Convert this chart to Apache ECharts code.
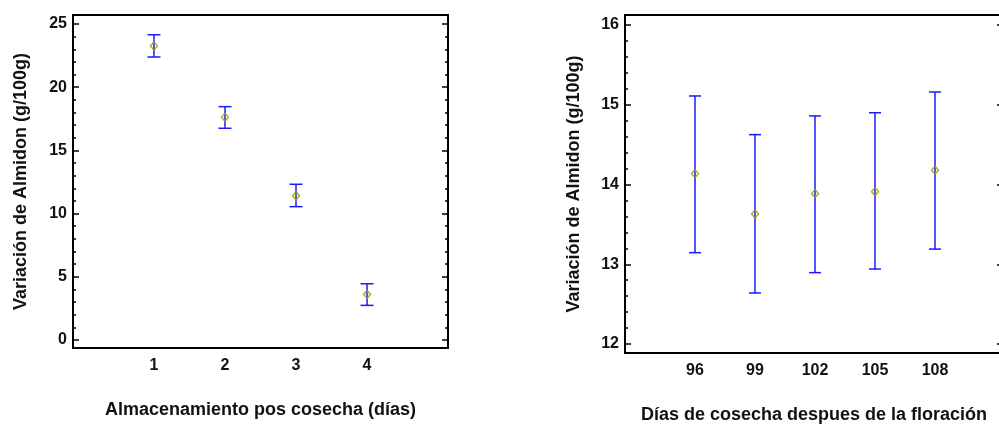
<!DOCTYPE html>
<html><head><meta charset="utf-8">
<script src="https://cdn.jsdelivr.net/npm/echarts@6/dist/echarts.min.js"></script>
<style>html,body{margin:0;padding:0;background:#fff}#c{width:999px;height:424px}</style>
</head><body><div id="c"></div>
<script>
// ---- Data ----
var leftCats = [1, 2, 3, 4];
var leftMeans = [23.26, 17.62, 11.42, 3.61];
var leftLow = [22.39, 16.75, 10.55, 2.74];
var leftHigh = [24.15, 18.46, 12.32, 4.45];
var leftYMin = 0, leftYMax = 25, leftYStep = 5;

var rightCats = [96, 99, 102, 105, 108];
var rightMeans = [14.135, 13.63, 13.885, 13.91, 14.18];
var rightLow = [13.145, 12.64, 12.895, 12.94, 13.19];
var rightHigh = [15.11, 14.625, 14.86, 14.90, 15.16];
var rightYMin = 12, rightYMax = 16, rightYStep = 1;

var leftYTitle = 'Variación de Almidon (g/100g)';
var leftXTitle = 'Almacenamiento pos cosecha (días)';
var rightYTitle = 'Variación de Almidon (g/100g)';
var rightXTitle = 'Días de cosecha despues de la floración';

var FONT = 'Liberation Sans, Arial, sans-serif';
var TXT = '#111';
var BLUE = '#1a1aff';
var OLIVE = '#9a9a00';
var TITLE_SIZE = 18, LABEL_SIZE = 16;

function frameX(grid, min, max, cats, name, gap) {
  return {
    type: 'value', gridIndex: grid, min: min, max: max, position: 'bottom',
    splitLine: { show: false }, axisLine: { show: false, onZero: false }, axisTick: { show: false },
    axisLabel: { show: true, customValues: cats, margin: 10, fontFamily: FONT, fontWeight: 'bold', fontSize: LABEL_SIZE, color: TXT },
    name: name, nameLocation: 'middle', nameGap: gap,
    nameTextStyle: { fontFamily: FONT, fontWeight: 'bold', fontSize: TITLE_SIZE, color: TXT }
  };
}
function hiddenX(grid, min, max) {
  return { type: 'value', gridIndex: grid, min: min, max: max, show: false, axisLine: { onZero: false }, splitLine: { show: false } };
}
function frameY(grid, name, gap) {
  return {
    type: 'value', gridIndex: grid, min: 0, max: 1, position: 'left',
    splitLine: { show: false }, axisLine: { show: false, onZero: false }, axisTick: { show: false }, axisLabel: { show: false },
    name: name, nameLocation: 'middle', nameGap: gap, nameRotate: 90,
    nameTextStyle: { fontFamily: FONT, fontWeight: 'bold', fontSize: TITLE_SIZE, color: TXT }
  };
}
function dataY(grid, pos, min, max, step, labels) {
  return {
    type: 'value', gridIndex: grid, min: min, max: max, interval: step, position: pos,
    splitLine: { show: false }, axisLine: { show: false, onZero: false },
    axisTick: { show: true, inside: true, length: 6, lineStyle: { color: '#000', width: 1.5 } },
    minorTick: { show: true, splitNumber: 5, length: 3, lineStyle: { color: '#000', width: 1.5 } },
    axisLabel: { show: labels, margin: 6, fontFamily: FONT, fontWeight: 'bold', fontSize: LABEL_SIZE, color: TXT }
  };
}

function errSeries(xi, yi, cats, low, high, cap) {
  return {
    type: 'custom', xAxisIndex: xi, yAxisIndex: yi,
    data: cats.map(function (c, i) { return [c, low[i], high[i]]; }),
    renderItem: function (params, api) {
      var x = api.value(0);
      var lo = api.coord([x, api.value(1)]);
      var hi = api.coord([x, api.value(2)]);
      var st = { stroke: BLUE, lineWidth: 1.5 };
      return { type: 'group', children: [
        { type: 'line', shape: { x1: lo[0], y1: lo[1], x2: hi[0], y2: hi[1] }, style: st },
        { type: 'line', shape: { x1: hi[0] - cap, y1: hi[1], x2: hi[0] + cap, y2: hi[1] }, style: st },
        { type: 'line', shape: { x1: lo[0] - cap, y1: lo[1], x2: lo[0] + cap, y2: lo[1] }, style: st }
      ] };
    },
    silent: true, z: 2
  };
}
function meanSeries(xi, yi, cats, means) {
  return {
    type: 'scatter', xAxisIndex: xi, yAxisIndex: yi,
    data: cats.map(function (c, i) { return [c, means[i]]; }),
    symbol: 'diamond', symbolSize: [7, 8],
    itemStyle: { color: 'rgba(255,255,255,0)', borderColor: OLIVE, borderWidth: 1.5 },
    silent: true, z: 3
  };
}

var G = { outerBoundsMode: 'none', containLabel: false };
var chart = echarts.init(document.getElementById('c'), null, { renderer: 'canvas' });
chart.setOption({
  animation: false,
  backgroundColor: '#fff',
  grid: [
    Object.assign({ left: 73, top: 15, width: 375, height: 333, show: true, borderColor: '#000', borderWidth: 2, backgroundColor: 'transparent' }, G),
    Object.assign({ left: 73, top: 24, width: 375, height: 316 }, G),
    Object.assign({ left: 625, top: 15, width: 378, height: 338, show: true, borderColor: '#000', borderWidth: 2, backgroundColor: 'transparent' }, G),
    Object.assign({ left: 625, top: 25, width: 378, height: 319 }, G)
  ],
  xAxis: [
    frameX(0, -0.14, 5.14, leftCats, leftXTitle, 53),
    hiddenX(1, -0.14, 5.14),
    frameX(2, 92.5, 111.4, rightCats, rightXTitle, 53),
    hiddenX(3, 92.5, 111.4)
  ],
  yAxis: [
    frameY(0, leftYTitle, 43),
    dataY(1, 'left', leftYMin, leftYMax, leftYStep, true),
    dataY(1, 'right', leftYMin, leftYMax, leftYStep, false),
    frameY(2, rightYTitle, 42),
    dataY(3, 'left', rightYMin, rightYMax, rightYStep, true),
    dataY(3, 'right', rightYMin, rightYMax, rightYStep, false)
  ],
  series: [
    errSeries(1, 1, leftCats, leftLow, leftHigh, 6.5),
    meanSeries(1, 1, leftCats, leftMeans),
    errSeries(3, 4, rightCats, rightLow, rightHigh, 6),
    meanSeries(3, 4, rightCats, rightMeans)
  ]
});
</script></body></html>
